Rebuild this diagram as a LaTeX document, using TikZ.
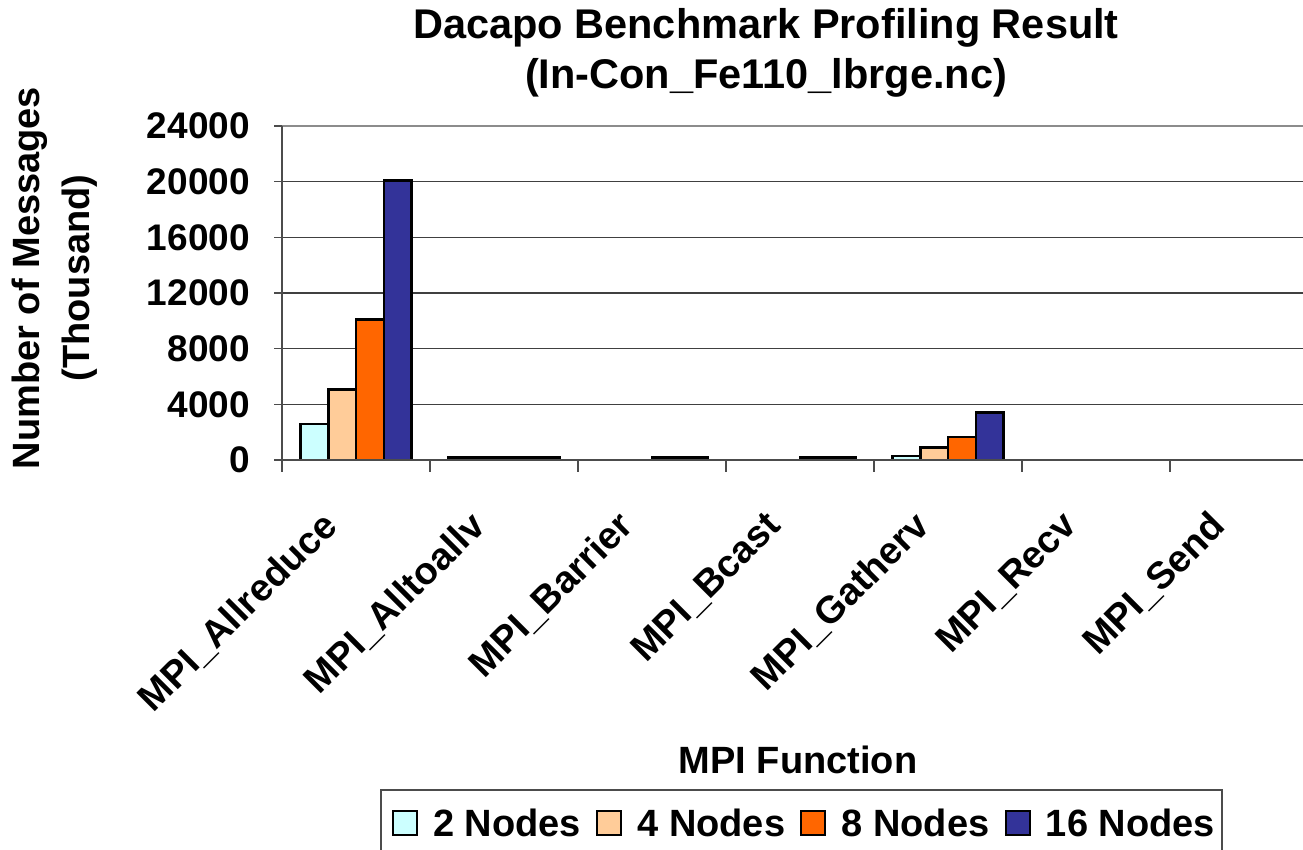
\documentclass[tikz,border=0pt]{standalone}
\usepackage{fontspec}
\setmainfont{Liberation Sans}
\usetikzlibrary{positioning}
\definecolor{c2}{HTML}{CCFFFF}
\definecolor{c4}{HTML}{FFCC99}
\definecolor{c8}{HTML}{FF6600}
\definecolor{c16}{HTML}{333399}

\begin{document}
\begin{tikzpicture}[x=1pt,y=-1pt]
\useasboundingbox (0,0) rectangle (1303,850);
\clip (0,0) rectangle (1303,850);

\tikzset{
  bar/.style={draw=black, line width=2.5pt},
  grid line/.style={black!75, line width=1.3pt},
  lbl/.style={font=\bfseries\fontsize{37}{44}\selectfont, inner sep=0pt},
  keytext/.style={font=\bfseries\fontsize{38}{44}\selectfont, inner sep=0pt},
  cat/.style={font=\bfseries\fontsize{38}{44}\selectfont, inner sep=0pt, rotate=45, anchor=east},
  keybox/.style={draw=black, line width=2pt, minimum size=24pt, inner sep=0pt},
}

% title and axis titles
\node [align=center, font=\bfseries\fontsize{41.5}{50}\selectfont] (title) at (766,53) {Dacapo Benchmark Profiling Result\\(In-Con\_Fe110\_lbrge.nc)};
\node [align=center, rotate=90, font=\bfseries\fontsize{38}{50}\selectfont] (ytitle) at (55,278) {Number of Messages\\(Thousand)};
\node [font=\bfseries\fontsize{38}{44}\selectfont] (xtitle) at (798,760) {MPI Function};

\begin{scope}[shift={(0,460)}, y=0.0139167pt]
% grid
\draw [black!45, line width=1.3pt] (282,24000) -- (1303,24000);
\draw [grid line] (282,20000) -- (1303,20000);
\draw [grid line] (282,16000) -- (1303,16000);
\draw [grid line] (282,12000) -- (1303,12000);
\draw [grid line] (282,8000) -- (1303,8000);
\draw [grid line] (282,4000) -- (1303,4000);

% y labels
\node [lbl, anchor=east] (y0) at (250,0) {0};
\node [lbl, anchor=east] (y4) at (250,4000) {4000};
\node [lbl, anchor=east] (y8) at (250,8000) {8000};
\node [lbl, anchor=east] (y12) at (250,12000) {12000};
\node [lbl, anchor=east] (y16) at (250,16000) {16000};
\node [lbl, anchor=east] (y20) at (250,20000) {20000};
\node [lbl, anchor=east] (y24) at (250,24000) {24000};

% MPI_Allreduce
\filldraw [bar, fill=c2] (300.5,0) rectangle (328.25,2600);
\filldraw [bar, fill=c4] (328.25,0) rectangle (356,5050);
\filldraw [bar, fill=c8] (356,0) rectangle (383.75,10100);
\filldraw [bar, fill=c16] (383.75,0) rectangle (411.5,20100);
% MPI_Alltoallv
\filldraw [bar, fill=c2] (448.5,0) rectangle (476.25,170);
\filldraw [bar, fill=c4] (476.25,0) rectangle (504,170);
\filldraw [bar, fill=c8] (504,0) rectangle (531.75,170);
\filldraw [bar, fill=c16] (531.75,0) rectangle (559.5,170);
% MPI_Barrier
\filldraw [bar, fill=c8] (652,0) rectangle (679.75,170);
\filldraw [bar, fill=c16] (679.75,0) rectangle (707.5,170);
% MPI_Bcast
\filldraw [bar, fill=c8] (800,0) rectangle (827.75,170);
\filldraw [bar, fill=c16] (827.75,0) rectangle (855.5,170);
% MPI_Gatherv
\filldraw [bar, fill=c2] (892.5,0) rectangle (920.25,270);
\filldraw [bar, fill=c4] (920.25,0) rectangle (948,900);
\filldraw [bar, fill=c8] (948,0) rectangle (975.75,1650);
\filldraw [bar, fill=c16] (975.75,0) rectangle (1003.5,3400);

% axes
\draw [black!70, line width=1.3pt] (282,24000) -- (282,0) -- (1303,0);
\draw [black!70, line width=1.3pt] (274,0) -- (282,0);
\draw [black!70, line width=1.3pt] (274,4000) -- (282,4000);
\draw [black!70, line width=1.3pt] (274,8000) -- (282,8000);
\draw [black!70, line width=1.3pt] (274,12000) -- (282,12000);
\draw [black!70, line width=1.3pt] (274,16000) -- (282,16000);
\draw [black!70, line width=1.3pt] (274,20000) -- (282,20000);
\draw [black!70, line width=1.3pt] (274,24000) -- (282,24000);
\end{scope}

% category ticks
\draw [black!70, line width=1.3pt] (282,460) -- (282,472);
\draw [black!70, line width=1.3pt] (430,460) -- (430,472);
\draw [black!70, line width=1.3pt] (578,460) -- (578,472);
\draw [black!70, line width=1.3pt] (726,460) -- (726,472);
\draw [black!70, line width=1.3pt] (874,460) -- (874,472);
\draw [black!70, line width=1.3pt] (1022,460) -- (1022,472);
\draw [black!70, line width=1.3pt] (1170,460) -- (1170,472);

% category labels
\node [cat] (allreduce) at (331,520) {MPI\_Allreduce};
\node [cat] (alltoallv) at (479,520) {MPI\_Alltoallv};
\node [cat] (barrier) at (627,520) {MPI\_Barrier};
\node [cat] (bcast) at (775,520) {MPI\_Bcast};
\node [cat] (gatherv) at (923,520) {MPI\_Gatherv};
\node [cat] (recv) at (1071,520) {MPI\_Recv};
\node [cat] (send) at (1219,520) {MPI\_Send};

% legend
\draw [black!70, line width=1.3pt] (381,790) rectangle (1222,880);
\node [keybox, fill=c2] (k2) at (405,823) {};
\node [keytext, right=15pt of k2] (t2) {2 Nodes};
\node [keybox, fill=c4, right=15pt of t2] (k4) {};
\node [keytext, right=15pt of k4] (t4) {4 Nodes};
\node [keybox, fill=c8, right=15pt of t4] (k8) {};
\node [keytext, right=15pt of k8] (t8) {8 Nodes};
\node [keybox, fill=c16, right=15pt of t8] (k16) {};
\node [keytext, right=15pt of k16] (t16) {16 Nodes};
\end{tikzpicture}
\end{document}
